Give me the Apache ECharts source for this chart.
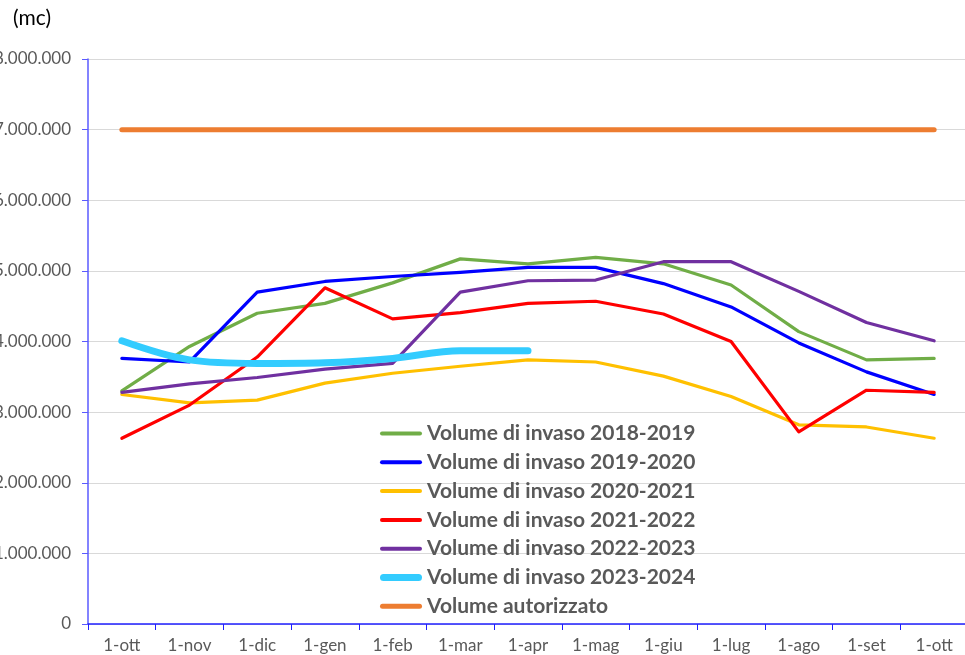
<!DOCTYPE html>
<html>
<head>
<meta charset="utf-8">
<script src="https://cdn.jsdelivr.net/npm/echarts@6/dist/echarts.min.js"></script>
<style>
  html, body { margin: 0; padding: 0; background: #fff; }
  #chart { width: 965px; height: 655px; }
</style>
</head>
<body>
<div id="chart"></div>
<script>
// categories (first day of each month, Oct -> Oct)
const months = ['1-ott', '1-nov', '1-dic', '1-gen', '1-feb', '1-mar', '1-apr',
  '1-mag', '1-giu', '1-lug', '1-ago', '1-set', '1-ott']

// stored volume, cubic metres
const vol2018 = [3300000, 3930000, 4400000, 4540000, 4830000, 5170000, 5100000,
  5190000, 5100000, 4800000, 4140000, 3740000, 3760000]
const vol2019 = [3760000, 3710000, 4700000, 4850000, 4920000, 4980000, 5050000,
  5050000, 4820000, 4490000, 3980000, 3570000, 3250000]
const vol2020 = [3250000, 3130000, 3170000, 3410000, 3550000, 3650000, 3740000,
  3710000, 3510000, 3220000, 2820000, 2790000, 2630000]
const vol2021 = [2630000, 3100000, 3780000, 4760000, 4320000, 4410000, 4540000,
  4570000, 4390000, 4000000, 2720000, 3310000, 3280000]
const vol2022 = [3280000, 3400000, 3490000, 3610000, 3690000, 4700000, 4860000,
  4870000, 5130000, 5130000, 4710000, 4270000, 4010000]
const vol2023 = [4010000, 3740000, 3690000, 3700000, 3760000, 3870000, 3870000]
const authorised = [7000000, 7000000, 7000000, 7000000, 7000000, 7000000, 7000000,
  7000000, 7000000, 7000000, 7000000, 7000000, 7000000]

// legend icons: rounded bars of different thickness
const thin = 'path://M2,0H40A2,2 0 0 1 40,4H2A2,2 0 0 1 2,0Z'
const mid = 'path://M2.5,0H39.5A2.5,2.5 0 0 1 39.5,5H2.5A2.5,2.5 0 0 1 2.5,0Z'
const thick = 'path://M3.5,0H38.5A3.5,3.5 0 0 1 38.5,7H3.5A3.5,3.5 0 0 1 3.5,0Z'

const seriesDefs = [
  { name: 'Volume di invaso 2018-2019', data: vol2018, color: '#70ad47', width: 3.2, icon: thin },
  { name: 'Volume di invaso 2019-2020', data: vol2019, color: '#0000ff', width: 3.2, icon: thin },
  { name: 'Volume di invaso 2020-2021', data: vol2020, color: '#ffc000', width: 3.2, icon: thin },
  { name: 'Volume di invaso 2021-2022', data: vol2021, color: '#ff0000', width: 3.2, icon: thin },
  { name: 'Volume di invaso 2022-2023', data: vol2022, color: '#7030a0', width: 3.2, icon: thin },
  { name: 'Volume di invaso 2023-2024', data: vol2023, color: '#33ccff', width: 7, icon: thick, smooth: true },
  { name: 'Volume autorizzato', data: authorised, color: '#ed7d31', width: 5, icon: mid }
]

function fmtIt(v) {
  return String(v).replace(/\B(?=(\d{3})+(?!\d))/g, '.')
}

const chart = echarts.init(document.getElementById('chart'))
const font = 'Lato'

chart.setOption({
  animation: false,
  textStyle: { fontFamily: font },
  graphic: [{
    type: 'text', left: 13, top: 8,
    style: { text: '(mc)', fontSize: 21, fontFamily: font, fill: '#000' }
  }],
  grid: { left: 88, right: -3, top: 59, bottom: 31, containLabel: false, outerBoundsMode: 'none' },
  legend: {
    orient: 'vertical',
    left: 375,
    top: 418,
    itemWidth: 42,
    itemHeight: 18,
    itemGap: 7.8,
    symbolKeepAspect: true,
    textStyle: { fontFamily: font, fontSize: 21, fontWeight: 'bold', color: '#595959' },
    data: seriesDefs.map(s => ({ name: s.name, icon: s.icon, itemStyle: { color: s.color } }))
  },
  xAxis: {
    type: 'category',
    boundaryGap: true,
    data: months,
    axisLine: { lineStyle: { color: '#2020ff', width: 1.5 } },
    axisTick: { show: true, length: 6, lineStyle: { color: '#2020ff' } },
    axisLabel: { color: '#595959', fontSize: 17, margin: 13, fontFamily: font }
  },
  yAxis: {
    type: 'value',
    min: 0,
    max: 8000000,
    interval: 1000000,
    axisLine: { show: true, lineStyle: { color: '#5a5aff', width: 1.5 } },
    axisTick: { show: true, length: 6, lineStyle: { color: '#5a5aff' } },
    splitLine: { lineStyle: { color: '#d9d9d9' } },
    axisLabel: { color: '#595959', fontSize: 17, margin: 17, fontFamily: font, formatter: v => fmtIt(v) }
  },
  series: seriesDefs.map(s => ({
    name: s.name,
    type: 'line',
    data: s.data,
    symbol: 'none',
    smooth: s.smooth ? 0.35 : false,
    color: s.color,
    lineStyle: { color: s.color, width: s.width, cap: 'round', join: 'round' },
    z: s.name === 'Volume autorizzato' ? 1 : 2
  }))
})
</script>
</body>
</html>
